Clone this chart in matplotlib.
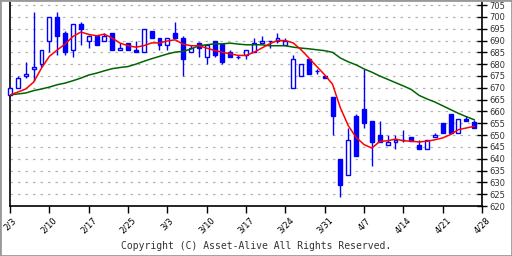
import numpy as np
import matplotlib
matplotlib.use('Agg')
import matplotlib.pyplot as plt
from matplotlib.patches import Rectangle

# daily prices (open, high, low, close)
opens = [667, 670, 675, 678, 680, 690, 700, 693, 686, 697,
         690, 692, 690, 693, 686, 689, 686, 685, 694, 691,
         688, 693, 691, 685, 689, 683, 690, 688.5, 685, 683,
         684, 685, 689, 690, 690, 688, 670, 675, 682, 677,
         675, 666, 640, 633, 658, 661, 656, 650, 646, 647,
         648, 649, 646, 644, 649, 655, 659, 651, 657, 655.5]
highs = [670.5, 675, 681, 702, 686, 700, 702, 694, 697, 698,
         692.5, 692, 693, 693, 689, 689, 690, 695, 694, 691,
         691, 698, 692, 688, 689.5, 688, 690, 688.5, 686, 684,
         686, 691, 692, 690, 693, 691, 684, 680, 682, 678,
         675, 666, 640, 653, 659, 678, 656, 656, 650, 650,
         652, 649, 648, 648, 651, 655, 659, 657, 658, 656.5]
lows = [666.5, 670, 674, 673, 679, 685, 684, 684, 683, 688,
        687, 688, 690, 686, 686, 686, 685, 685, 691, 686,
        686, 691, 675, 685, 683, 680, 683, 680, 683, 682,
        682, 685, 689, 687, 689, 688, 670, 675, 676, 676,
        674, 650, 624, 633, 641, 653, 637, 647, 646, 644,
        647, 647.5, 644, 644, 649, 651, 651, 651, 656, 653]
closes = [670, 674, 676, 679, 686, 700, 692, 685, 697, 695,
          692, 688, 692, 686, 687, 686, 685, 695, 691, 688,
          691, 691, 682, 687, 687, 688, 684, 681, 683, 683,
          686, 689, 690, 690, 691, 690, 682, 680, 676, 677,
          674, 658, 629, 648, 641, 655, 647, 647, 647, 648,
          648, 647.5, 644, 648, 650, 651, 651, 657, 656, 653]

# moving averages
ma_short = [667, 668.2, 669.5, 672.4, 678.3, 683.3, 686, 688.5, 691.7, 693.6,
            692.6, 692, 692.7, 691, 688.9, 687.8, 687.2, 687.8, 689, 689,
            689.8, 690.3, 688.5, 687.8, 687.8, 686.8, 685.8, 685, 684.4, 683.7,
            683.7, 685, 686.8, 688.6, 690, 690, 689, 686.1, 682.6, 679,
            675.5, 671.5, 661.5, 654, 649, 646, 644.5, 647.3, 647.6, 648.3,
            647.6, 647.4, 647.1, 647.4, 648, 648.8, 650.2, 652.3, 653, 653.7]
ma_long = [667, 667.4, 667.8, 668.8, 669.5, 670.3, 671.3, 672, 673, 674.1,
           675.4, 676.2, 677.2, 678.1, 678.6, 679, 680, 681.2, 682.3, 683.3,
           684.3, 685.1, 685.4, 686.4, 687.8, 688.2, 688.6, 688.6, 688.9, 688.5,
           688.2, 688.2, 688.2, 687.8, 687.8, 687.8, 687.2, 686.8, 686.5, 686.1,
           685.7, 685, 682.6, 681, 679.7, 678, 676.6, 675, 673.6, 672.2,
           670.8, 669.3, 666.8, 665.3, 664, 662.4, 660.8, 659.2, 657.8, 656.5]

date_labels = ['2/3', '2/10', '2/17', '2/25', '3/3', '3/10', '3/17',
               '3/24', '3/31', '4/7', '4/14', '4/21', '4/28']

blue = '#0000ff'

fig = plt.figure(figsize=(5.12, 2.56), dpi=100)
ax = fig.add_axes([10/512, 50/256, 472/512, 204/256])

x = np.arange(len(opens))
o = np.array(opens)
c = np.array(closes)
up = c >= o

# wicks first, then bodies on top
ax.vlines(x, lows, highs, color=blue, lw=1, zorder=3, clip_on=False)
bottoms = np.minimum(o, c)
heights = np.abs(c - o)
ax.bar(x[up], heights[up], bottom=bottoms[up], width=0.5,
       facecolor='white', edgecolor=blue, lw=1, zorder=4, clip_on=False)
ax.bar(x[~up], heights[~up], bottom=bottoms[~up], width=0.5,
       facecolor=blue, edgecolor=blue, lw=1, zorder=4, clip_on=False)

ax.plot(x, ma_long, color='#006400', lw=1.1, zorder=5)
ax.plot(x, ma_short, color='red', lw=1.1, zorder=5)

ax.set_xlim(0, 60)
ax.set_ylim(620, 706.3)

yt = np.arange(620, 706, 5)
for v in yt[1:]:
    ax.axhline(v, color='#b4b4b4', lw=0.9, ls=(0, (2, 4)), zorder=1)

ax.yaxis.tick_right()
ax.set_yticks(yt)
ax.set_yticklabels([str(v) for v in yt], fontsize=6, color='#333333')
ax.tick_params(axis='y', direction='inout', length=7, width=1, pad=2)

ax.set_xticks(np.arange(0, 61, 5))
ax.set_xticklabels(date_labels, rotation=45, ha='center', fontsize=6)
ax.tick_params(axis='x', direction='out', length=5, width=1, pad=2)

ax.spines['top'].set_visible(False)
for s in ['left', 'bottom', 'right']:
    ax.spines[s].set_linewidth(1.2)

fig.text(0.5, 10/256, 'Copyright (C) Asset-Alive All Rights Reserved.',
         ha='center', va='center', family='DejaVu Sans Mono', fontsize=7,
         color='#333333')

# grey frame around the image
fig.patches.append(Rectangle((0, 0), 1, 1, transform=fig.transFigure,
                             fill=False, edgecolor='#999999', lw=2))

fig.savefig('out.png', dpi=100)
